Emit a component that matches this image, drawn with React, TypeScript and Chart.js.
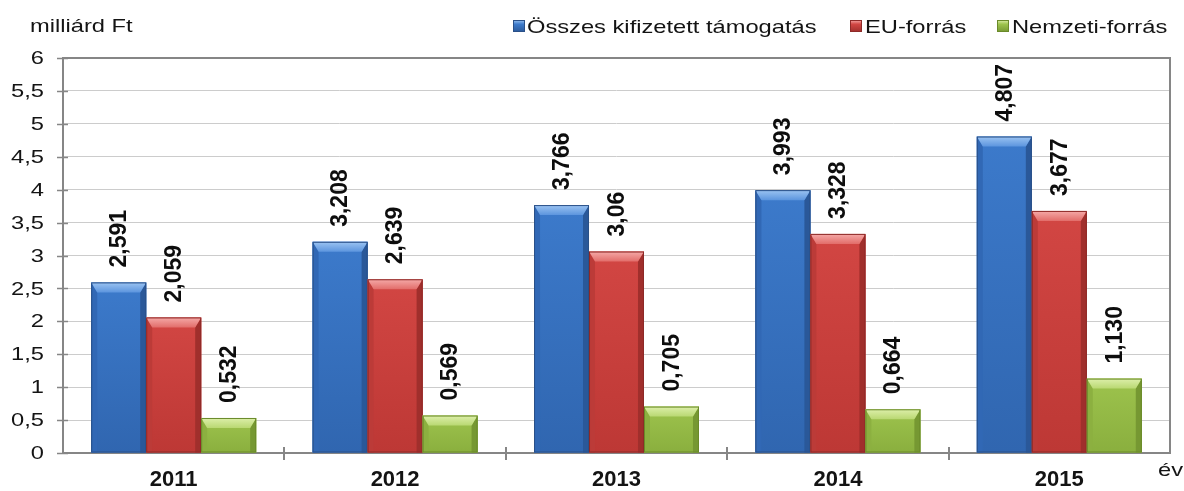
import React, { useEffect, useRef } from "react";
import { Chart, registerables } from "chart.js";

Chart.register(...registerables);

const years = ["2011", "2012", "2013", "2014", "2015"];
const totalValues = [2.591, 3.208, 3.766, 3.993, 4.807];
const euValues = [2.059, 2.639, 3.06, 3.328, 3.677];
const nationalValues = [0.532, 0.569, 0.705, 0.664, 1.13];
const totalLabels = ["2,591", "3,208", "3,766", "3,993", "4,807"];
const euLabels = ["2,059", "2,639", "3,06", "3,328", "3,677"];
const nationalLabels = ["0,532", "0,569", "0,705", "0,664", "1,130"];
const seriesNames = ["Összes kifizetett támogatás", "EU-forrás", "Nemzeti-forrás"];
const yMin = 0;
const yMax = 6;
const yStep = 0.5;
const yUnitLabel = "milliárd Ft";
const xUnitLabel = "év";

const FONT = "'Liberation Sans', Arial, sans-serif";
const HSCALE = 1.28;

const palettes = [
  { main: "#3c7acb", bottom: "#3066b0", left: "#3168b5", right: "#2a5899", topLight: "#9cc4f2", topDark: "#5c95de", edge: "#2a5088" },
  { main: "#d24643", bottom: "#bd3835", left: "#bc3b38", right: "#a02f2c", topLight: "#f5aaa8", topDark: "#e26d6a", edge: "#8e2a28" },
  { main: "#9dc34d", bottom: "#8aaf3e", left: "#8cb040", right: "#769832", topLight: "#ddefaa", topDark: "#b9d872", edge: "#6a8a2a" },
];
const labelSets = [totalLabels, euLabels, nationalLabels];
const legendPos = [
  { marker: 513, text: 527 },
  { marker: 850, text: 865 },
  { marker: 997, text: 1012 },
];

function poly(ctx: CanvasRenderingContext2D, pts: number[][]) {
  ctx.beginPath();
  ctx.moveTo(pts[0][0], pts[0][1]);
  for (let i = 1; i < pts.length; i++) ctx.lineTo(pts[i][0], pts[i][1]);
  ctx.closePath();
  ctx.fill();
}

function drawBevel(ctx: CanvasRenderingContext2D, x0: number, x1: number, top: number, base: number, c: any) {
  const h = base - top;
  if (h <= 0) return;
  const b = Math.min(10, h / 2);
  const s = 6;
  const g = ctx.createLinearGradient(0, top, 0, base);
  g.addColorStop(0, c.main);
  g.addColorStop(1, c.bottom);
  ctx.fillStyle = g;
  ctx.fillRect(x0, top, x1 - x0, h);
  ctx.fillStyle = c.left;
  poly(ctx, [[x0, top], [x0 + s, top + b], [x0 + s, base], [x0, base]]);
  ctx.fillStyle = c.right;
  poly(ctx, [[x1, top], [x1 - s, top + b], [x1 - s, base], [x1, base]]);
  const tg = ctx.createLinearGradient(0, top, 0, top + b);
  tg.addColorStop(0, c.topLight);
  tg.addColorStop(1, c.topDark);
  ctx.fillStyle = tg;
  poly(ctx, [[x0, top], [x1, top], [x1 - s, top + b], [x0 + s, top + b]]);
  ctx.strokeStyle = c.edge;
  ctx.lineWidth = 1;
  ctx.strokeRect(x0 + 0.5, top + 0.5, x1 - x0 - 1, h - 1);
}

function scaledText(ctx: CanvasRenderingContext2D, text: string, x: number, y: number, align: CanvasTextAlign, baseline: CanvasTextBaseline) {
  ctx.save();
  ctx.translate(x, y);
  ctx.scale(HSCALE, 1);
  ctx.textAlign = align;
  ctx.textBaseline = baseline;
  ctx.fillText(text, 0, 0);
  ctx.restore();
}

const decorPlugin = {
  id: "decor",
  beforeDatasetsDraw(chart: any) {
    const ctx: CanvasRenderingContext2D = chart.ctx;
    const { left, right, top, bottom } = chart.chartArea;
    const xs = chart.scales.x;
    const ys = chart.scales.y;
    ctx.save();
    ctx.strokeStyle = "#868686";
    ctx.lineWidth = 2;
    ctx.beginPath();
    ctx.moveTo(left, top);
    ctx.lineTo(right, top);
    ctx.lineTo(right, bottom);
    ctx.lineTo(left, bottom);
    ctx.closePath();
    ctx.stroke();
    ctx.lineWidth = 1.5;
    ys.ticks.forEach((t: any) => {
      const py = Math.round(ys.getPixelForValue(t.value)) + 0.5;
      ctx.beginPath();
      ctx.moveTo(left - 6, py);
      ctx.lineTo(left + 5, py);
      ctx.stroke();
    });
    ctx.lineWidth = 2;
    for (let i = 0; i < years.length - 1; i++) {
      const px = Math.round((xs.getPixelForValue(i) + xs.getPixelForValue(i + 1)) / 2);
      ctx.beginPath();
      ctx.moveTo(px, bottom - 6);
      ctx.lineTo(px, bottom + 7);
      ctx.stroke();
    }
    ctx.restore();
  },
  afterDatasetsDraw(chart: any) {
    const ctx: CanvasRenderingContext2D = chart.ctx;
    ctx.save();
    chart.data.datasets.forEach((ds: any, di: number) => {
      const meta = chart.getDatasetMeta(di);
      meta.data.forEach((bar: any, i: number) => {
        const p = bar.getProps(["x", "y", "width", "base"], true);
        const x0 = p.x - p.width / 2;
        const x1 = p.x + p.width / 2;
        drawBevel(ctx, x0, x1, p.y, p.base, palettes[di]);
        ctx.save();
        ctx.translate(p.x, p.y - 15);
        ctx.rotate(-Math.PI / 2);
        ctx.font = `bold 23px ${FONT}`;
        ctx.fillStyle = "#0d0d0d";
        ctx.textAlign = "left";
        ctx.textBaseline = "middle";
        ctx.fillText(labelSets[di][i], 0, 1);
        ctx.restore();
      });
    });
    ctx.restore();
  },
  afterDraw(chart: any) {
    const ctx: CanvasRenderingContext2D = chart.ctx;
    const { left } = chart.chartArea;
    const ys = chart.scales.y;
    ctx.save();
    ctx.fillStyle = "#141414";
    ctx.font = `18.5px ${FONT}`;
    ys.ticks.forEach((t: any) => {
      const py = ys.getPixelForValue(t.value);
      scaledText(ctx, String(t.value).replace(".", ","), left - 19, py + 1, "right", "middle");
    });
    scaledText(ctx, yUnitLabel, 30, 31.5, "left", "alphabetic");
    scaledText(ctx, xUnitLabel, 1158, 476, "left", "alphabetic");
    seriesNames.forEach((name, i) => {
      const lp = legendPos[i];
      const c = palettes[i];
      const mx = lp.marker, my = 20, ms = 12;
      const g = ctx.createLinearGradient(0, my, 0, my + ms);
      g.addColorStop(0, c.topLight);
      g.addColorStop(0.35, c.main);
      g.addColorStop(1, c.right);
      ctx.fillStyle = g;
      ctx.fillRect(mx, my, ms, ms);
      ctx.strokeStyle = c.edge;
      ctx.lineWidth = 1;
      ctx.strokeRect(mx + 0.5, my + 0.5, ms - 1, ms - 1);
      ctx.fillStyle = "#141414";
      scaledText(ctx, name, lp.text, 33, "left", "alphabetic");
    });
    ctx.restore();
  },
};

export default function App() {
  const ref = useRef<HTMLCanvasElement | null>(null);
  useEffect(() => {
    document.body.style.margin = "0";
    const canvas = ref.current;
    if (!canvas) return;
    const chart = new Chart(canvas, {
      type: "bar",
      data: {
        labels: years,
        datasets: [
          { label: seriesNames[0], data: totalValues, backgroundColor: palettes[0].main },
          { label: seriesNames[1], data: euValues, backgroundColor: palettes[1].main },
          { label: seriesNames[2], data: nationalValues, backgroundColor: palettes[2].main },
        ],
      },
      options: {
        responsive: false,
        animation: false,
        devicePixelRatio: 1,
        layout: { padding: { top: 58, right: 14, left: 0, bottom: 0 } },
        datasets: { bar: { categoryPercentage: 0.745, barPercentage: 1 } },
        plugins: { legend: { display: false }, tooltip: { enabled: false }, title: { display: false } },
        scales: {
          x: {
            grid: { display: false, drawTicks: false },
            border: { display: false },
            ticks: { color: "#141414", font: { family: FONT, size: 22, weight: "bold" }, padding: 14 },
            afterFit: (s: any) => { s.height = 38; },
          },
          y: {
            min: yMin,
            max: yMax,
            grid: { color: "#cccccc", lineWidth: 1, drawTicks: false },
            border: { display: false },
            ticks: { stepSize: yStep, display: false },
            afterFit: (s: any) => { s.width = 63; },
          },
        },
      },
      plugins: [decorPlugin],
    } as any);
    return () => chart.destroy();
  }, []);
  return (
    <canvas ref={ref} width={1184} height={491} style={{ display: "block", width: "1184px", height: "491px" }} />
  );
}
